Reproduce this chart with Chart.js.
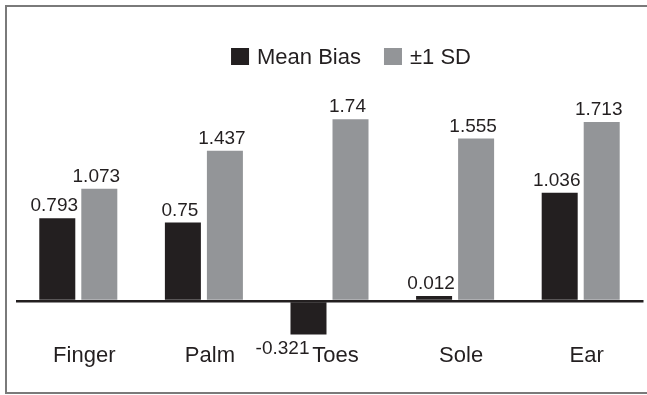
<!DOCTYPE html>
<html>
<head>
<meta charset="utf-8">
<script src="https://cdn.jsdelivr.net/npm/chart.js@4/dist/chart.umd.min.js"></script>
<style>
  html, body { margin: 0; padding: 0; background: #ffffff; }
  #wrap { width: 647px; height: 395px; }
</style>
</head>
<body>
<div id="wrap"><canvas id="c" width="647" height="395"></canvas></div>
<script>
// Measurement sites and results
const categories = ['Finger', 'Palm', 'Toes', 'Sole', 'Ear'];
const meanBias = [0.793, 0.75, -0.321, 0.012, 1.036];
const sd1 = [1.073, 1.437, 1.74, 1.555, 1.713];
const seriesNames = ['Mean Bias', '\u00b11 SD'];

const DARK = '#231f20';
const GREY = '#939598';
const FONT = '"Liberation Sans", Arial, Helvetica, sans-serif';

// White page with a thin grey frame (left, top and bottom edges)
const framePlugin = {
  id: 'frame',
  beforeDraw(chart) {
    const ctx = chart.ctx;
    ctx.save();
    ctx.fillStyle = '#ffffff';
    ctx.fillRect(0, 0, chart.width, chart.height);
    ctx.strokeStyle = '#7a7a7a';
    ctx.lineWidth = 2;
    ctx.beginPath();
    ctx.moveTo(chart.width, 6);
    ctx.lineTo(6, 6);
    ctx.lineTo(6, chart.height - 2);
    ctx.lineTo(chart.width, chart.height - 2);
    ctx.stroke();
    ctx.restore();
  }
};

// Legend row drawn from the dataset labels and colours
const legendRow = {
  id: 'legendRow',
  afterDraw(chart) {
    const ctx = chart.ctx;
    ctx.save();
    ctx.font = '22px ' + FONT;
    ctx.textBaseline = 'alphabetic';
    ctx.textAlign = 'left';
    const box = 18, gapText = 8, gapItem = 23;
    const items = chart.data.datasets.map(ds => ({
      text: ds.label, color: ds.backgroundColor, w: ctx.measureText(ds.label).width
    }));
    let total = 0;
    items.forEach((it, i) => { total += box + gapText + it.w + (i ? gapItem : 0); });
    let x = 351 - total / 2;
    items.forEach(it => {
      ctx.fillStyle = it.color;
      ctx.fillRect(x, 48, box, 17);
      ctx.fillStyle = DARK;
      ctx.fillText(it.text, x + box + gapText, 64);
      x += box + gapText + it.w + gapItem;
    });
    ctx.restore();
  }
};

// Value labels: above positive bars, beside the end of negative bars
const valueLabels = {
  id: 'valueLabels',
  afterDatasetsDraw(chart) {
    const ctx = chart.ctx;
    ctx.save();
    ctx.font = '19px ' + FONT;
    ctx.fillStyle = DARK;
    ctx.textBaseline = 'alphabetic';
    chart.data.datasets.forEach((ds, di) => {
      chart.getDatasetMeta(di).data.forEach((bar, i) => {
        const v = ds.data[i];
        if (v >= 0) {
          ctx.textAlign = 'center';
          ctx.fillText(String(v), bar.x - 3, bar.y - 7);
        } else {
          ctx.textAlign = 'right';
          ctx.fillText(String(v), bar.x + 1, bar.y + 19);
        }
      });
    });
    ctx.restore();
  }
};

new Chart(document.getElementById('c'), {
  type: 'bar',
  data: {
    labels: categories,
    datasets: [
      { label: seriesNames[0], data: meanBias, backgroundColor: DARK, minBarLength: 5 },
      { label: seriesNames[1], data: sd1, backgroundColor: GREY }
    ]
  },
  options: {
    responsive: false,
    devicePixelRatio: 1,
    animation: false,
    events: [],
    layout: { padding: { left: 15.5, right: 3.5, top: 92, bottom: 0 } },
    datasets: { bar: { categoryPercentage: 0.669, barPercentage: 0.857 } },
    plugins: { legend: { display: false }, tooltip: { enabled: false } },
    scales: {
      x: {
        grid: { display: false },
        border: { display: false },
        ticks: {
          color: DARK,
          padding: 0,
          labelOffset: 6,
          maxRotation: 0,
          autoSkip: false,
          font: { family: FONT, size: 22 }
        },
        afterFit(s) { s.height = 60; }
      },
      y: {
        min: -0.3254,
        max: 2.0,
        z: 1,
        border: { display: false },
        grid: {
          drawTicks: false,
          lineWidth: 2.5,
          color: c => (c.tick && c.tick.value === 0 ? DARK : 'rgba(0,0,0,0)')
        },
        ticks: { display: false, stepSize: 0.5 },
        afterFit(s) { s.width = 0; }
      }
    }
  },
  plugins: [framePlugin, legendRow, valueLabels]
});
</script>
</body>
</html>
